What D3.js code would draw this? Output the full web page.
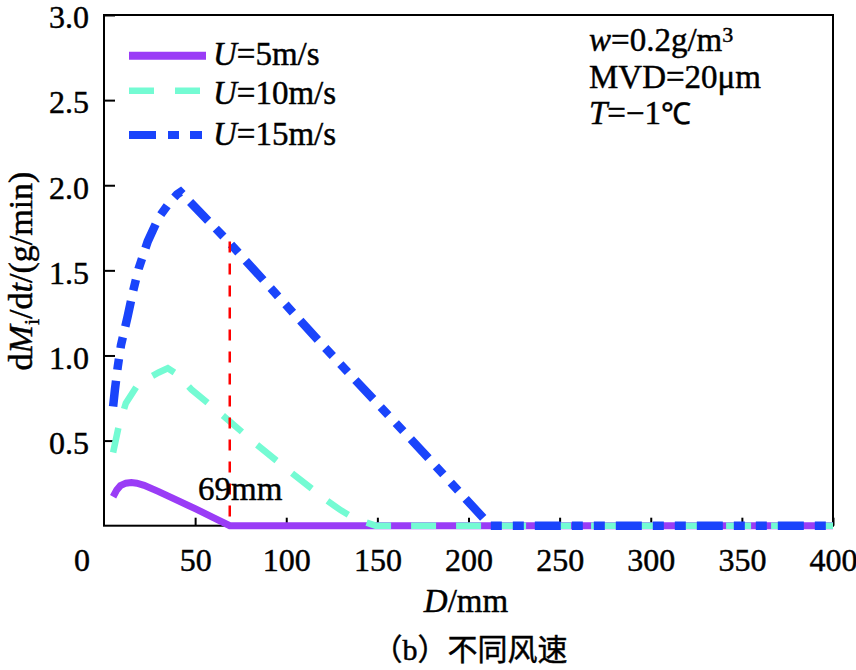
<!DOCTYPE html>
<html>
<head>
<meta charset="utf-8">
<script src="https://cdn.jsdelivr.net/npm/d3@7"></script>
<style>
  html, body { margin: 0; padding: 0; background: #fff; }
  svg { display: block; }
  text { font-family: "Liberation Serif", "Times New Roman", serif; fill: #000; stroke: #000; stroke-width: 0.45px; }
</style>
</head>
<body>
<svg id="chart" width="856" height="670"></svg>
<script>
// ---------------- data ----------------
const xTickValues = [50, 100, 150, 200, 250, 300, 350, 400];
const xOriginLabel = "0";
const yTickValues = [0.5, 1.0, 1.5, 2.0, 2.5, 3.0];

const seriesNames = ["U=5m/s", "U=10m/s", "U=15m/s"];

const d_U5 = [5, 7, 9, 12, 15, 18, 22, 30, 40, 50, 60, 69, 400];
const v_U5 = [0.17, 0.21, 0.235, 0.25, 0.253, 0.25, 0.237, 0.2, 0.15, 0.1, 0.048, 0, 0];

const d_U10 = [5, 8, 12, 18, 25, 30, 35, 40, 48, 66, 84, 103, 122, 130, 138, 149, 400];
const v_U10 = [0.43, 0.58, 0.72, 0.82, 0.87, 0.90, 0.925, 0.89, 0.80, 0.64, 0.475, 0.31, 0.15, 0.09, 0.04, 0, 0];

const d_U15 = [5, 6, 7.5, 9.3, 13, 16, 19, 24, 30, 36, 40, 42, 69, 120, 170, 212, 400];
const v_U15 = [0.70, 0.80, 0.93, 1.06, 1.23, 1.38, 1.51, 1.67, 1.81, 1.90, 1.945, 1.96, 1.66, 1.06, 0.49, 0, 0];

const markerD = 69;
const markerTop = 1.67;
const markerLabel = "69mm";

// ---------------- layout ----------------
const SERIF = "'Liberation Serif', 'Times New Roman', serif";
const svg = d3.select("#chart");
const pL = 104, pR = 833, pT = 15, pB = 525.7;
const x = d3.scaleLinear().domain([0, 400]).range([pL, pR]);
const y = d3.scaleLinear().domain([0, 3]).range([pB, pT]);

const colors = ["#9a3cf6", "#74fbd3", "#1a44fb"];
const widths = [7, 6.5, 8.5];
const dashes = [null, "25,20", "26,11,11,11,11,11"];

// frame
svg.append("rect")
  .attr("x", pL).attr("y", pT)
  .attr("width", pR - pL).attr("height", pB - pT)
  .attr("fill", "none").attr("stroke", "#000").attr("stroke-width", 2);

// y axis
const yAxis = svg.append("g")
  .attr("transform", `translate(${pL},0)`)
  .call(d3.axisLeft(y).tickValues(yTickValues).tickFormat(d3.format(".1f"))
    .tickSizeInner(-11).tickSizeOuter(0).tickPadding(15));
yAxis.attr("font-family", SERIF).attr("font-size", 32);
yAxis.select(".domain").remove();
yAxis.selectAll("line").attr("stroke", "#000").attr("stroke-width", 2);
yAxis.selectAll("text").style("font-family", SERIF).style("font-size", "32px").attr("dy", "0.4em");

// x axis
const xAxis = svg.append("g")
  .attr("transform", `translate(0,${pB})`)
  .call(d3.axisBottom(x).tickValues(xTickValues).tickFormat(d3.format("d"))
    .tickSizeInner(-8).tickSizeOuter(0));
xAxis.attr("font-family", SERIF).attr("font-size", 32);
xAxis.select(".domain").remove();
xAxis.selectAll("line").attr("stroke", "#000").attr("stroke-width", 2);
xAxis.selectAll("text").style("font-family", SERIF).style("font-size", "32px")
  .attr("dy", null).attr("y", 45);

svg.append("text").attr("x", 82).attr("y", pB + 45)
  .attr("text-anchor", "middle").style("font-size", "32px").text(xOriginLabel);

// series
const line = d3.line().x(d => x(d[0])).y(d => y(d[1]));
const series = [
  d3.zip(d_U5, v_U5),
  d3.zip(d_U10, v_U10),
  d3.zip(d_U15, v_U15)
];
series.forEach((s, i) => {
  svg.append("path").datum(s)
    .attr("d", line)
    .attr("fill", "none")
    .attr("stroke", colors[i])
    .attr("stroke-width", widths[i])
    .attr("stroke-dasharray", dashes[i])
    .attr("stroke-linejoin", "miter");
});

// marker line
svg.append("line")
  .attr("x1", x(markerD)).attr("x2", x(markerD))
  .attr("y1", y(markerTop)).attr("y2", y(0))
  .attr("stroke", "#ff0000").attr("stroke-width", 2.5)
  .attr("stroke-dasharray", "11,11");
svg.append("text").attr("x", 198).attr("y", 500)
  .style("font-size", "33px").text(markerLabel);

// legend
const legY = [55.7, 90.7, 135];
const legBase = [65, 104, 145];
seriesNames.forEach((name, i) => {
  svg.append("line")
    .attr("x1", 129).attr("x2", 206)
    .attr("y1", legY[i]).attr("y2", legY[i])
    .attr("stroke", colors[i])
    .attr("stroke-width", i === 1 ? 6.5 : 8)
    .attr("stroke-dasharray", i === 1 ? "25,21" : (i === 2 ? "27,12,11,11,12,11" : null));
  const t = svg.append("text").attr("x", 213).attr("y", legBase[i]).style("font-size", "33px");
  t.append("tspan").attr("font-style", "italic").text(name.split("=")[0]);
  t.append("tspan").text("=" + name.split("=")[1]);
});

// condition notes
const n1 = svg.append("text").attr("x", 589).attr("y", 51).style("font-size", "33px");
n1.append("tspan").attr("font-style", "italic").text("w");
n1.append("tspan").text("=0.2g/m");
n1.append("tspan").attr("dy", -9).style("font-size", "22px").text("3");

svg.append("text").attr("x", 589).attr("y", 88).style("font-size", "33px").text("MVD=20μm");

const n3 = svg.append("text").attr("x", 589).attr("y", 124).style("font-size", "33px");
n3.append("tspan").attr("font-style", "italic").text("T");
n3.append("tspan").text("=−1");
n3.append("tspan").style("font-size", "30px").text("℃");

// axis titles
const yt = svg.append("text")
  .attr("transform", "translate(32,271) rotate(-90)")
  .attr("text-anchor", "middle").style("font-size", "34px");
yt.append("tspan").text("d");
yt.append("tspan").attr("font-style", "italic").text("M");
yt.append("tspan").attr("dy", 7).style("font-size", "22px").text("i");
yt.append("tspan").attr("dy", -7).text("/d");
yt.append("tspan").attr("font-style", "italic").text("t");
yt.append("tspan").text("/(g/min)");

const xt = svg.append("text").attr("x", 466).attr("y", 612)
  .attr("text-anchor", "middle").style("font-size", "33px");
xt.append("tspan").attr("font-style", "italic").text("D");
xt.append("tspan").text("/mm");

svg.append("text").attr("x", 470).attr("y", 660)
  .attr("text-anchor", "middle")
  .style("font-family", "'Liberation Serif', 'Noto Sans CJK SC', serif")
  .style("font-size", "30px").text("（b）不同风速");
</script>
</body>
</html>
